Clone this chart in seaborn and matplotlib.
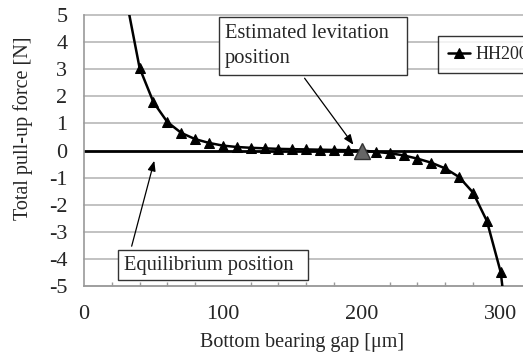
import matplotlib
matplotlib.use("Agg")
import matplotlib.pyplot as plt
import seaborn as sns
import pandas as pd
import numpy as np
from matplotlib.patches import Rectangle
from matplotlib.ticker import MultipleLocator

# ---- data ----
gap_um = [30, 40, 50, 60, 70, 80, 90, 100, 110, 120, 130, 140, 150, 160, 170,
          180, 190, 200, 210, 220, 230, 240, 250, 260, 270, 280, 290, 300, 310]
force_N = [5.7, 3.05, 1.78, 1.05, 0.65, 0.42, 0.28, 0.18, 0.13, 0.10, 0.08, 0.06,
           0.05, 0.04, 0.03, 0.02, 0.01, 0.0, -0.05, -0.10, -0.18, -0.30, -0.45,
           -0.66, -0.98, -1.55, -2.6, -4.5, -9.0]
series_name = "HH200"
levitation_gap = 200
levitation_force = 0.0
x_ticks = [0, 100, 200, 300]
y_ticks = [-5, -4, -3, -2, -1, 0, 1, 2, 3, 4, 5]

df = pd.DataFrame({"gap": gap_um, "force": force_N})

sns.set_theme(style="white")
plt.rcParams["font.family"] = ["Liberation Serif", "DejaVu Serif"]
plt.rcParams["axes.unicode_minus"] = False

W, H = 523, 355
fig = plt.figure(figsize=(W / 100, H / 100), dpi=100)
ax = fig.add_axes([84 / W, 69 / H, 439 / W, 271 / H])

grid_c = "#bdbdbd"
for yv in y_ticks:
    if yv != 0:
        ax.axhline(yv, color=grid_c, lw=1.3, zorder=0, clip_on=False)
ax.axhline(0, color="black", lw=2.0, zorder=1)

sns.lineplot(data=df, x="gap", y="force", ax=ax, color="black", lw=1.8,
             marker="^", markersize=7, markeredgecolor="black",
             markerfacecolor="black", label=series_name, zorder=3)
ax.plot([levitation_gap], [levitation_force], marker="^", markersize=12,
        color="#666666", markeredgecolor="#333333", zorder=4)

ax.set_xlim(0, 316)
ax.set_ylim(-5, 5)
ax.set_xticks(x_ticks)
ax.set_yticks(y_ticks)
ax.xaxis.set_minor_locator(MultipleLocator(20))
ax.tick_params(axis="x", which="major", direction="in", length=5, width=1,
               color="#999999", labelsize=16, pad=14)
ax.tick_params(axis="x", which="minor", direction="in", length=3, width=1,
               color="#999999", bottom=True)
ax.tick_params(axis="y", which="major", direction="out", length=0,
               labelsize=16, pad=12)
for s in ["top", "right"]:
    ax.spines[s].set_visible(False)
for s in ["left", "bottom"]:
    ax.spines[s].set_color("#999999")
    ax.spines[s].set_linewidth(1.2)

ax.set_xlabel("")
ax.set_ylabel("")
fig.text(302 / W, 1 - 343 / H, "Bottom bearing gap [μm]", fontsize=14.5,
         ha="center", va="center")
fig.text(23 / W, 1 - 128 / H, "Total pull-up force [N]", fontsize=14.5,
         ha="center", va="center", rotation=90)

# annotation boxes
ax.add_patch(Rectangle((97.2, 2.79), 232.5 - 97.2, 4.93 - 2.79, facecolor="white",
                       edgecolor="#333333", lw=1, zorder=5, clip_on=False))
ax.text(101.5, 4.30, "Estimated levitation", fontsize=14.8, va="center",
        ha="left", zorder=6)
ax.text(101.5, 3.41, "position", fontsize=14.8, va="center", ha="left", zorder=6)

ax.add_patch(Rectangle((24.5, -4.78), 161.2 - 24.5, 4.78 - 3.67,
                       facecolor="white", edgecolor="#333333", lw=1, zorder=5))
ax.text(29.0, -4.24, "Equilibrium position", fontsize=14.8, va="center",
        ha="left", zorder=6)

arrow = dict(arrowstyle="-|>,head_length=0.5,head_width=0.2", color="black", lw=0.9)
ax.annotate("", xy=(195.1, 0.13), xytext=(157.6, 2.75), arrowprops=arrow, zorder=6)
ax.annotate("", xy=(51.1, -0.28), xytext=(33.8, -3.63), arrowprops=arrow, zorder=6)

leg = ax.legend(loc="upper left", bbox_to_anchor=(0.786, 0.956), fontsize=13,
                frameon=True, fancybox=False, edgecolor="black",
                handlelength=1.2, handletextpad=0.3, borderpad=0.55)
leg.get_frame().set_linewidth(1.0)
leg.set_zorder(7)

fig.savefig("out.png", dpi=100)
